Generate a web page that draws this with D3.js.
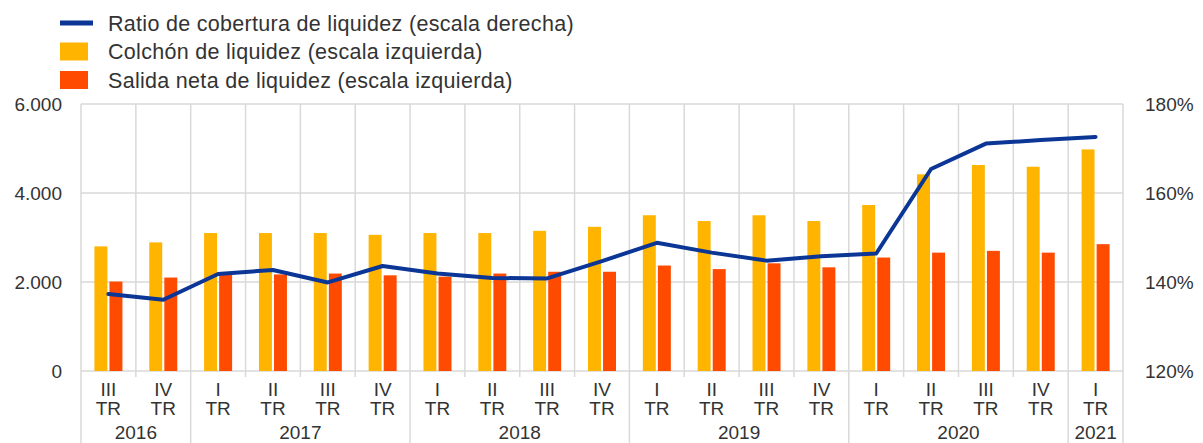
<!DOCTYPE html>
<html lang="es">
<head>
<meta charset="utf-8">
<title>Ratio de cobertura de liquidez</title>
<script src="https://cdn.jsdelivr.net/npm/d3@7"></script>
<style>
	body { margin: 0; background: #fff; }
	text { font-family: "Liberation Sans", Arial, sans-serif; fill: #333; }
	.grid line { stroke: #d9d9d9; stroke-width: 1.5px; }
</style>
</head>
<body>
<div id="chart"></div>
<script>
// datos
var trimestres = ["III", "IV", "I", "II", "III", "IV", "I", "II", "III", "IV", "I", "II", "III", "IV", "I", "II", "III", "IV", "I"];
var anios = ["2016", "2016", "2017", "2017", "2017", "2017", "2018", "2018", "2018", "2018", "2019", "2019", "2019", "2019", "2020", "2020", "2020", "2020", "2021"];
var colchon = [2800, 2890, 3100, 3100, 3100, 3060, 3100, 3100, 3150, 3240, 3500, 3370, 3500, 3370, 3730, 4420, 4630, 4590, 4980];
var salida = [2010, 2100, 2170, 2170, 2190, 2150, 2120, 2190, 2230, 2230, 2370, 2290, 2420, 2330, 2550, 2660, 2700, 2660, 2850];
var ratio = [137.3, 136.0, 141.8, 142.7, 139.9, 143.6, 141.9, 140.9, 140.8, 144.7, 148.8, 146.6, 144.8, 145.8, 146.4, 165.4, 171.1, 171.9, 172.6];
var ticksIzq = [0, 2000, 4000, 6000];
var ticksDer = [120, 140, 160, 180];
var leyenda = [
	{ nombre: "Ratio de cobertura de liquidez (escala derecha)", tipo: "linea", color: "#0b3696" },
	{ nombre: "Colchón de liquidez (escala izquierda)", tipo: "barra", color: "#ffb400" },
	{ nombre: "Salida neta de liquidez (escala izquierda)", tipo: "barra", color: "#ff4b00" }
];

var width = 1203, height = 443;
var margin = { top: 104, right: 80, bottom: 72, left: 81 };
var w = width - margin.left - margin.right,
	h = height - margin.top - margin.bottom;

var fmt = function (d) { return d3.format(",")(d).replace(/,/g, "."); };

var svg = d3.select("#chart").append("svg")
	.attr("width", width)
	.attr("height", height);

var g = svg.append("g").attr("transform", "translate(" + margin.left + "," + margin.top + ")");

var idx = d3.range(trimestres.length);
var x = d3.scaleBand().domain(idx).range([0, w]).padding(0);
var xs = d3.scaleBand().domain(["c", "s"]).range([x.bandwidth() / 2 - 14, x.bandwidth() / 2 + 14]).paddingInner(0.14);
var y = d3.scaleLinear().domain([0, 6000]).range([h, 0]);
var y2 = d3.scaleLinear().domain([120, 180]).range([h, 0]);

// rejilla
var grid = g.append("g").attr("class", "grid");
grid.selectAll("line.h").data(ticksIzq).enter().append("line")
	.attr("x1", 0).attr("x2", w)
	.attr("y1", function (d) { return y(d); }).attr("y2", function (d) { return y(d); });
grid.selectAll("line.v").data(d3.range(trimestres.length + 1)).enter().append("line")
	.attr("x1", function (i) { return i * x.step(); })
	.attr("x2", function (i) { return i * x.step(); })
	.attr("y1", 0)
	.attr("y2", function (i) {
		var limite = i === 0 || i === trimestres.length || anios[i] !== anios[i - 1];
		return limite ? height - margin.top : h + 6;
	});

// barras
g.selectAll("rect.colchon").data(colchon).enter().append("rect")
	.attr("x", function (d, i) { return x(i) + xs("c"); })
	.attr("width", xs.bandwidth())
	.attr("y", function (d) { return y(d); })
	.attr("height", function (d) { return h - y(d); })
	.attr("fill", leyenda[1].color);

g.selectAll("rect.salida").data(salida).enter().append("rect")
	.attr("x", function (d, i) { return x(i) + xs("s"); })
	.attr("width", xs.bandwidth())
	.attr("y", function (d) { return y(d); })
	.attr("height", function (d) { return h - y(d); })
	.attr("fill", leyenda[2].color);

// linea
var line = d3.line()
	.x(function (d, i) { return x(i) + x.bandwidth() / 2; })
	.y(function (d) { return y2(d); });

g.append("path").datum(ratio)
	.attr("d", line)
	.attr("fill", "none")
	.attr("stroke", leyenda[0].color)
	.attr("stroke-width", 4)
	.attr("stroke-linejoin", "round")
	.attr("stroke-linecap", "round");

// ejes
g.selectAll("text.izq").data(ticksIzq).enter().append("text")
	.attr("x", -19).attr("y", function (d) { return y(d); })
	.attr("dy", "0.35em")
	.attr("text-anchor", "end")
	.style("font-size", "19px")
	.text(fmt);

g.selectAll("text.der").data(ticksDer).enter().append("text")
	.attr("x", w + 22).attr("y", function (d) { return y2(d); })
	.attr("dy", "0.35em")
	.style("font-size", "19px")
	.text(function (d) { return d + "%"; });

g.selectAll("text.trim").data(trimestres).enter().append("text")
	.attr("x", function (d, i) { return x(i) + x.bandwidth() / 2; })
	.attr("y", h + 18)
	.attr("dy", "0.35em")
	.attr("text-anchor", "middle")
	.style("font-size", "19px")
	.text(function (d) { return d; });

g.selectAll("text.tr").data(trimestres).enter().append("text")
	.attr("x", function (d, i) { return x(i) + x.bandwidth() / 2; })
	.attr("y", h + 37)
	.attr("dy", "0.35em")
	.attr("text-anchor", "middle")
	.style("font-size", "19px")
	.text("TR");

var grupos = d3.groups(idx, function (i) { return anios[i]; });
g.selectAll("text.anio").data(grupos).enter().append("text")
	.attr("x", function (d) {
		var a = d[1][0], b = d[1][d[1].length - 1];
		return (x(a) + x(b) + x.bandwidth()) / 2;
	})
	.attr("y", h + 61)
	.attr("dy", "0.35em")
	.attr("text-anchor", "middle")
	.style("font-size", "19px")
	.text(function (d) { return d[0]; });

// leyenda
var ley = svg.append("g").attr("transform", "translate(60,23)");
var item = ley.selectAll("g").data(leyenda).enter().append("g")
	.attr("transform", function (d, i) { return "translate(0," + i * 28.5 + ")"; });

item.filter(function (d) { return d.tipo === "linea"; }).append("rect")
	.attr("x", 0).attr("y", -2.5).attr("width", 33).attr("height", 5)
	.attr("fill", function (d) { return d.color; });
item.filter(function (d) { return d.tipo === "barra"; }).append("rect")
	.attr("x", 0).attr("y", -9).attr("width", 28).attr("height", 18)
	.attr("fill", function (d) { return d.color; });
item.append("text")
	.attr("x", 48).attr("dy", "0.35em")
	.style("font-size", "21.5px")
	.style("letter-spacing", "0.3px")
	.text(function (d) { return d.nombre; });
</script>
</body>
</html>
